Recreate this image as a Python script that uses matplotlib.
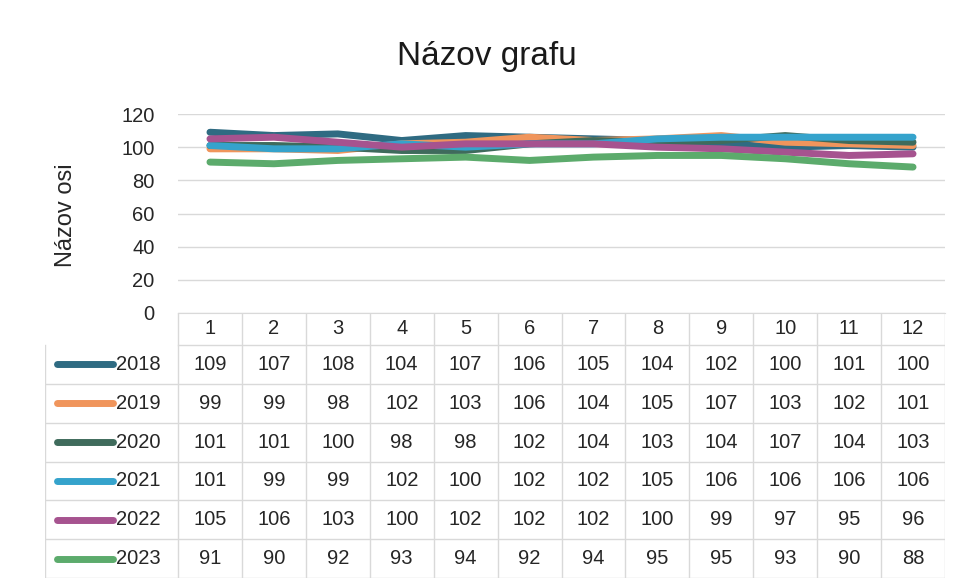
import matplotlib.pyplot as plt
from matplotlib.transforms import blended_transform_factory

months = [1, 2, 3, 4, 5, 6, 7, 8, 9, 10, 11, 12]
years = ['2018', '2019', '2020', '2021', '2022', '2023']
v2018 = [109, 107, 108, 104, 107, 106, 105, 104, 102, 100, 101, 100]
v2019 = [99, 99, 98, 102, 103, 106, 104, 105, 107, 103, 102, 101]
v2020 = [101, 101, 100, 98, 98, 102, 104, 103, 104, 107, 104, 103]
v2021 = [101, 99, 99, 102, 100, 102, 102, 105, 106, 106, 106, 106]
v2022 = [105, 106, 103, 100, 102, 102, 102, 100, 99, 97, 95, 96]
v2023 = [91, 90, 92, 93, 94, 92, 94, 95, 95, 93, 90, 88]
series = [v2018, v2019, v2020, v2021, v2022, v2023]
colors = ['#2f6b82', '#f0955c', '#3f6b5c', '#35a3cc', '#a6538f', '#5cab6c']

plt.rcParams['font.family'] = ['Liberation Sans', 'DejaVu Sans']
grid_col = '#d9d9d9'
txt_col = '#262626'
fs = 14.5

fig = plt.figure(figsize=(9.63, 5.86), dpi=100)

# chart area
ax = fig.add_axes([178 / 963, 1 - 313 / 586, 767 / 963, 199 / 586])
for vals, c in zip(series, colors):
    ax.plot(months, vals, color=c, lw=5, solid_capstyle='round')
ax.set_xlim(0.5, 12.5)
ax.set_ylim(0, 120)
ax.set_yticks(range(0, 121, 20))
ax.set_xticks([])
ax.grid(axis='y', color=grid_col, lw=1)
ax.set_axisbelow(True)
for s in ['top', 'right', 'left']:
    ax.spines[s].set_visible(False)
ax.spines['bottom'].set_color(grid_col)
ax.tick_params(axis='y', length=0, labelsize=fs, colors=txt_col, pad=17)
fig.text(66 / 963, 1 - 215 / 586, 'Názov osi', rotation=90, ha='center', va='center',
         fontsize=17, color=txt_col)
fig.text(487 / 963, 1 - 57 / 586, 'Názov grafu', ha='center', va='center',
         fontsize=24, color='#1a1a1a')

# data table below the chart
tax = fig.add_axes([45 / 963, 1 - 578 / 586, 900 / 963, 265 / 586])
tax.set_xlim(0, 1)
tax.set_ylim(0, 1)
tax.axis('off')
tr = blended_transform_factory(ax.transData, tax.transAxes)

head_h = 32 / 265
row_h = (1 - head_h) / len(years)
x0 = (178 - 45) / 900

# header row
for m in months:
    tax.text(m, 1 - head_h / 2, str(m), transform=tr, ha='center', va='center',
             fontsize=fs, color=txt_col)
for m in months[:-1]:
    tax.plot([m + 0.5, m + 0.5], [0, 1], transform=tr, color=grid_col, lw=1)
tax.plot([12.5, 12.5], [0, 1], transform=tr, color=grid_col, lw=1)
tax.plot([x0, x0], [0, 1], color=grid_col, lw=1)
tax.plot([0, 0], [0, 1 - head_h], color=grid_col, lw=1)
tax.plot([x0, 1], [1 - head_h, 1 - head_h], color=grid_col, lw=1)

for i, (yr, vals, c) in enumerate(zip(years, series, colors)):
    yc = 1 - head_h - row_h * (i + 0.5)
    yb = 1 - head_h - row_h * (i + 1)
    tax.plot([0, 1], [yb, yb], color=grid_col, lw=1)
    tax.plot([12 / 900, 68 / 900], [yc, yc], color=c, lw=5, solid_capstyle='round')
    tax.text(71 / 900, yc, yr, ha='left', va='center', fontsize=fs, color=txt_col)
    for m, v in zip(months, vals):
        tax.text(m, yc, str(v), transform=tr, ha='center', va='center',
                 fontsize=fs, color=txt_col)

fig.savefig('out.png', dpi=100)
